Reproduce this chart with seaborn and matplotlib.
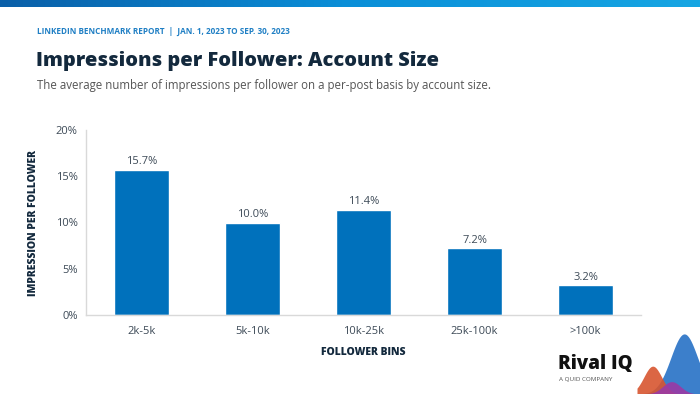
import numpy as np
import pandas as pd
import matplotlib
matplotlib.use("Agg")
from matplotlib import pyplot as plt
from matplotlib.ticker import FuncFormatter
import seaborn as sns

bins = ["2k-5k", "5k-10k", "10k-25k", "25k-100k", ">100k"]
impressions = [15.7, 10.0, 11.4, 7.2, 3.2]
y_ticks = [0, 5, 10, 15, 20]

sns.set_theme(style="white")
plt.rcParams["font.family"] = ["Open Sans", "DejaVu Sans"]

df = pd.DataFrame({"bin": bins, "value": impressions})

fig = plt.figure(figsize=(7, 3.94), dpi=100)
ax = fig.add_axes([86 / 700, 1 - 315 / 394, 555 / 700, 185 / 394])

sns.barplot(data=df, x="bin", y="value", color="#0071bc", saturation=1,
            width=0.5, ax=ax)

for p, v in zip(ax.patches, impressions):
    ax.text(p.get_x() + p.get_width() / 2, v + 0.3, f"{v:.1f}%",
            ha="center", va="bottom", fontsize=8, color="#3d4a57")

ax.set_ylim(0, 20)
ax.set_yticks(y_ticks)
ax.yaxis.set_major_formatter(FuncFormatter(lambda v, _: f"{v:.0f}%"))
ax.tick_params(axis="both", labelsize=8, colors="#3d4a57", length=0, pad=6)
ax.tick_params(axis="x", pad=8)
for s in ["top", "right"]:
    ax.spines[s].set_visible(False)
for s in ["left", "bottom"]:
    ax.spines[s].set_color("#d9d9d9")
    ax.spines[s].set_linewidth(1)
ax.set_xlabel("FOLLOWER BINS", fontsize=7.5, fontweight="heavy",
              color="#13293d", labelpad=7)
ax.set_ylabel("IMPRESSION PER FOLLOWER", fontsize=7.5, fontweight="heavy",
              color="#13293d", labelpad=12)

# top gradient band
band = fig.add_axes([0, 1 - 7 / 394, 1, 7 / 394])
band.imshow(np.linspace(0, 1, 256).reshape(1, -1), aspect="auto",
            cmap=matplotlib.colors.LinearSegmentedColormap.from_list(
                "b", ["#0a5fa8", "#0a8fd8", "#17a6e3"]))
band.axis("off")

fig.text(37 / 700, 1 - 31 / 394, "LINKEDIN BENCHMARK REPORT  |  JAN. 1, 2023 TO SEP. 30, 2023",
         fontsize=5.9, fontweight="bold", color="#1f7fc4", va="center")
fig.text(36 / 700, 1 - 61 / 394, "Impressions per Follower: Account Size",
         fontsize=14.4, fontweight="heavy", color="#13293d", va="center")
fig.text(37 / 700, 1 - 86 / 394,
         "The average number of impressions per follower on a per-post basis by account size.",
         fontsize=8.3, color="#555555", va="center")

# logo
fig.text(558 / 700, 1 - 364 / 394, "Rival IQ", fontsize=13.5, fontweight="heavy",
         color="#111111", va="center")
fig.text(559 / 700, 1 - 379 / 394, "A QUID COMPANY", fontsize=4.5,
         color="#555555", va="center")
deco = fig.add_axes([637 / 700, 0, 63 / 700, 62 / 394])
t = np.linspace(0, 1, 50)
deco.fill_between(t, 0, 0.97 * np.exp(-((t - 0.75) / 0.3) ** 2), color="#3c7fcb", lw=0)
deco.fill_between(t, 0, 0.45 * np.exp(-((t - 0.25) / 0.2) ** 2), color="#d8552f", alpha=0.9, lw=0)
deco.fill_between(t, 0, 0.2 * np.exp(-((t - 0.55) / 0.2) ** 2), color="#9b3aa5", alpha=0.9, lw=0)
deco.set_xlim(0, 1)
deco.set_ylim(0, 1)
deco.axis("off")

fig.savefig("out.png", dpi=100)
